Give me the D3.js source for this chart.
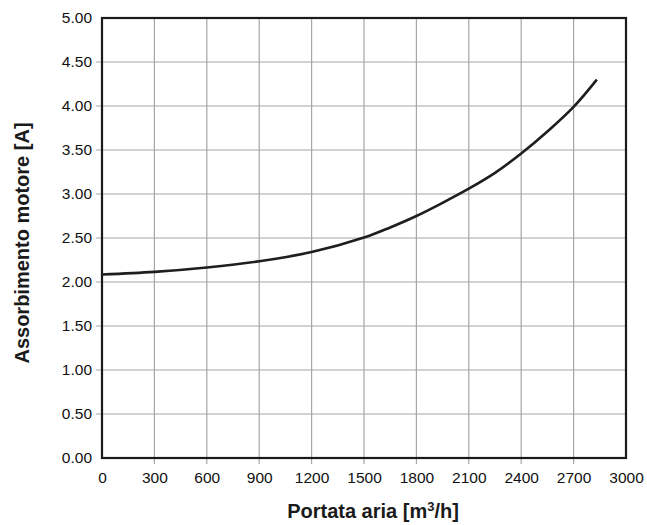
<!DOCTYPE html>
<html><head><meta charset="utf-8">
<script src="https://cdn.jsdelivr.net/npm/d3@7"></script>
<style>body{margin:0;background:#fff;}svg{display:block;}</style>
</head><body>
<svg id="c" width="647" height="525"></svg>
<script>
const flowValues = [0, 300, 600, 900, 1200, 1500, 1650, 1800, 1950, 2100, 2250, 2400, 2550, 2700, 2833];
const currentValues = [2.085, 2.115, 2.165, 2.235, 2.34, 2.505, 2.62, 2.75, 2.9, 3.06, 3.24, 3.46, 3.71, 3.99, 4.30];
const xTicks = [0,300,600,900,1200,1500,1800,2100,2400,2700,3000];
const yTicks = [0,0.5,1,1.5,2,2.5,3,3.5,4,4.5,5];

const svg = d3.select("#c");
const L=102, R=626, T=18, B=458;
const x = d3.scaleLinear().domain([0,3000]).range([L,R]);
const y = d3.scaleLinear().domain([0,5]).range([B,T]);
const font = "'Liberation Sans', Arial, sans-serif";

// grid
svg.append("g").selectAll("line").data(xTicks.slice(1,-1)).join("line")
  .attr("x1",d=>x(d)).attr("x2",d=>x(d)).attr("y1",T).attr("y2",B+6)
  .attr("stroke","#a6a6a6").attr("stroke-width",1.2);
svg.append("g").selectAll("line").data(yTicks.slice(1,-1)).join("line")
  .attr("y1",d=>y(d)).attr("y2",d=>y(d)).attr("x1",L-6).attr("x2",R)
  .attr("stroke","#a6a6a6").attr("stroke-width",1.2);

// axes labels
const xAxis = d3.axisBottom(x).tickValues(xTicks).tickSize(0).tickPadding(14).tickFormat(d3.format("d"));
const gx = svg.append("g").attr("transform",`translate(0,${B})`).call(xAxis);
gx.select(".domain").remove();
gx.selectAll("text").attr("font-family",font).attr("font-size",15.5).attr("fill","#111");

const yAxis = d3.axisLeft(y).tickValues(yTicks).tickSize(0).tickPadding(10).tickFormat(d3.format(".2f"));
const gy = svg.append("g").attr("transform",`translate(${L},0)`).call(yAxis);
gy.select(".domain").remove();
gy.selectAll("text").attr("font-family",font).attr("font-size",15.5).attr("fill","#111");

// frame
svg.append("rect").attr("x",L).attr("y",T).attr("width",R-L).attr("height",B-T)
  .attr("fill","none").attr("stroke","#1a1a1a").attr("stroke-width",2.2);

// curve
const data = flowValues.map((f,i)=>[f,currentValues[i]]);
svg.append("path").datum(data)
  .attr("d", d3.line().x(d=>x(d[0])).y(d=>y(d[1])).curve(d3.curveCatmullRom.alpha(0.5)))
  .attr("fill","none").attr("stroke","#1e1e1e").attr("stroke-width",2.6);

// titles
const xt = svg.append("text").attr("x",373).attr("y",518).attr("text-anchor","middle")
  .attr("font-family",font).attr("font-size",20).attr("font-weight","bold").attr("fill","#1a1a1a");
xt.append("tspan").text("Portata aria [m");
xt.append("tspan").text("3").attr("font-size",13).attr("dy",-7);
xt.append("tspan").text("/h]").attr("dy",7);

svg.append("text").attr("transform",`translate(29,243) rotate(-90)`).attr("text-anchor","middle")
  .attr("font-family",font).attr("font-size",20).attr("font-weight","bold").attr("fill","#1a1a1a")
  .text("Assorbimento motore [A]");
</script>
</body></html>
